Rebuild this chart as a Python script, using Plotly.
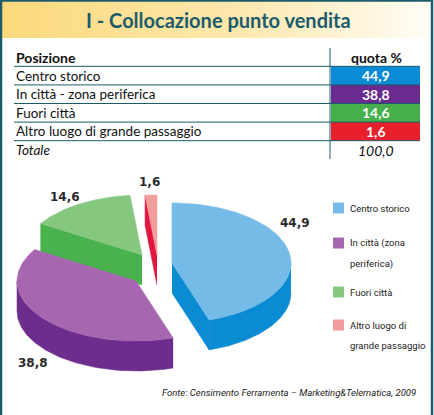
import numpy as np
import plotly.graph_objects as go

# --- dati ---
posizioni = ["Centro storico", "In città - zona periferica", "Fuori città",
             "Altro luogo di grande passaggio"]
quote = [44.9, 38.8, 14.6, 1.6]
totale = 100.0
legenda = ["Centro storico", "In città (zona<br>periferica)", "Fuori città",
           "Altro luogo di<br>grande passaggio"]

titolo = "I - Collocazione punto vendita"
fonte = "Fonte: Censimento Ferramenta – Marketing&Telematica, 2009"

# --- stile ---
teal = "#1c5b6c"
col_tabella = ["#0b8ad6", "#6a2b91", "#45b04b", "#e8202b"]
col_top = ["#74bbe7", "#a767b0", "#86c780", "#f39c9c"]
col_side = ["#0b8bd2", "#6d2d8d", "#49b14d", "#e2173f"]
font_tab = "Lato, Open Sans, sans-serif"
font_nar = "Liberation Sans Narrow, Roboto, sans-serif"

# torta 3d (in pixel)
cx, cy = 152, 266
rx, ry, spessore = 119, 60, 30
explode = [(20, -3), (-16, 15), (-10, -11), (5, -11)]
pos_etichette = [(295, 223), (33, 363), (65, 197), (149, 182)]
legenda_y = [208, 243, 292, 325]


def fmt(v):
    return f"{v:.1f}".replace(".", ",")


fig = go.Figure()


def poly(xs, ys, color):
    fig.add_trace(go.Scatter(x=xs, y=ys, fill="toself", fillcolor=color, mode="lines",
                             line=dict(color=color, width=0.5), hoverinfo="skip",
                             showlegend=False))


def rim(ax, ay, t):
    r = np.radians(t)
    return ax + rx * np.sin(r), ay - ry * np.cos(r)


# banda del titolo
fig.add_trace(go.Scatter(x=[2, 431, 431, 2, 2], y=[1, 1, 38, 38, 1], fill="toself", mode="none",
                         fillgradient=dict(type="horizontal",
                                           colorscale=[[0, "#fbd97b"], [0.55, "#fde7ad"], [1, "#fffdf6"]]),
                         hoverinfo="skip", showlegend=False))

# --- torta ---
angoli = np.cumsum([0] + quote) / sum(quote) * 360
apici = [(cx + dx, cy + dy) for dx, dy in explode]

# pareti laterali, dalle fette dietro a quelle davanti
for i in sorted(range(len(quote)), key=lambda k: apici[k][1]):
    t1, t2 = angoli[i], angoli[i + 1]
    ax, ay = apici[i]
    lo, hi = max(t1, 90), min(t2, 270)
    if hi > lo:
        x, y = rim(ax, ay, np.linspace(lo, hi, 80))
        poly(np.concatenate([x, x[::-1]]), np.concatenate([y, y[::-1] + spessore]), col_side[i])
    if np.sin(np.radians(t1)) < -1e-6:
        x0, y0 = rim(ax, ay, t1)
        poly([ax, x0, x0, ax], [ay, y0, y0 + spessore, ay + spessore], col_side[i])
    if np.sin(np.radians(t2)) > 1e-6:
        x0, y0 = rim(ax, ay, t2)
        poly([ax, x0, x0, ax], [ay, y0, y0 + spessore, ay + spessore], col_side[i])

# facce superiori
for i in range(len(quote)):
    ax, ay = apici[i]
    x, y = rim(ax, ay, np.linspace(angoli[i], angoli[i + 1], 80))
    poly([ax] + list(x) + [ax], [ay] + list(y) + [ay], col_top[i])

annotations = []
for v, (lx, ly) in zip(quote, pos_etichette):
    annotations.append(dict(x=lx, y=ly, text=fmt(v), showarrow=False,
                            font=dict(family="DejaVu Sans", size=12, color="#2a2a2a", weight="bold")))

# legenda
fig.add_trace(go.Scatter(x=[338.5] * len(legenda), y=legenda_y, mode="markers",
                         marker=dict(symbol="square", size=11, color=col_top),
                         hoverinfo="skip", showlegend=False))
for lab, ly in zip(legenda, legenda_y):
    for k, riga in enumerate(lab.split("<br>")):
        annotations.append(dict(x=348, y=ly + 20.5 * k, text=riga, showarrow=False, xanchor="left",
                                font=dict(family=font_nar, size=9.5, color="#222")))

# --- tabella ---
shapes = []
row_h = 18.6
y_head = 57
for i, c in enumerate(col_tabella):
    shapes.append(dict(type="rect", xref="x", yref="y", x0=331, x1=420,
                       y0=y_head + row_h * (i + 0.5), y1=y_head + row_h * (i + 1.5),
                       fillcolor=c, line=dict(width=0), layer="below"))
for k in range(len(posizioni) + 1):
    yl = y_head + row_h * (k + 0.5)
    shapes.append(dict(type="line", xref="x", yref="y", x0=14, x1=420, y0=yl, y1=yl,
                       line=dict(color=teal, width=1)))
shapes.append(dict(type="line", xref="x", yref="y", x0=330, x1=330, y0=48, y1=159,
                   line=dict(color=teal, width=1)))

annotations.append(dict(x=14, y=y_head, text="<b>Posizione</b>", showarrow=False, xanchor="left",
                        font=dict(family=font_tab, size=14, color="#111")))
annotations.append(dict(x=376, y=y_head, text="<b>quota %</b>", showarrow=False,
                        font=dict(family=font_tab, size=14, color="#111")))
for i, (p, v) in enumerate(zip(posizioni, quote)):
    yr = y_head + row_h * (i + 1)
    annotations.append(dict(x=14, y=yr, text=p, showarrow=False, xanchor="left",
                            font=dict(family=font_tab, size=13.5, color="#111")))
    annotations.append(dict(x=376, y=yr, text="<b>" + fmt(v) + "</b>", showarrow=False,
                            font=dict(family=font_tab, size=14, color="white")))
yt = y_head + row_h * (len(posizioni) + 1)
annotations.append(dict(x=14, y=yt, text="<i>Totale</i>", showarrow=False, xanchor="left",
                        font=dict(family=font_tab, size=13.5, color="#111")))
annotations.append(dict(x=376, y=yt, text="<i>" + fmt(totale) + "</i>", showarrow=False,
                        font=dict(family=font_tab, size=14, color="#111")))

# titolo e fonte
annotations.append(dict(x=218, y=20, text="<b>" + titolo + "</b>", showarrow=False,
                        font=dict(family=font_tab, size=20, color=teal)))
annotations.append(dict(x=418, y=392, text="<i>" + fonte + "</i>", showarrow=False, xanchor="right",
                        font=dict(family=font_nar, size=9.5, color="#222")))

# cornice
shapes.append(dict(type="rect", xref="x", yref="y", x0=1, x1=432, y0=0.5, y1=430,
                   line=dict(color=teal, width=2.5)))

fig.update_layout(
    width=434, height=415,
    margin=dict(l=0, r=0, t=0, b=0),
    paper_bgcolor="white", plot_bgcolor="white",
    xaxis=dict(range=[0, 434], visible=False, fixedrange=True),
    yaxis=dict(range=[415, 0], visible=False, fixedrange=True),
    shapes=shapes, annotations=annotations,
)

fig.write_html("out.html", config={"displayModeBar": False},
               post_script="document.body.style.margin='0';document.body.style.overflow='hidden';")
